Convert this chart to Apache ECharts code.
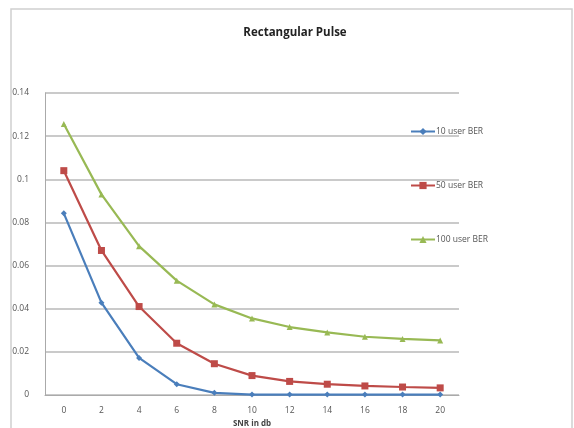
<!DOCTYPE html>
<html><head><meta charset="utf-8">
<script src="https://cdn.jsdelivr.net/npm/echarts@6/dist/echarts.min.js"></script>
<style>html,body{margin:0;padding:0;background:#fff}#c{width:574px;height:428px}</style>
</head><body><div id="c"></div>
<script>
const categories = ['0','2','4','6','8','10','12','14','16','18','20'];
const ber10 = [0.0842, 0.0428, 0.0172, 0.0050, 0.0010, 0.0002, 0.0002, 0.0002, 0.0002, 0.0002, 0.0002];
const ber50 = [0.1040, 0.0670, 0.0410, 0.0240, 0.0145, 0.0090, 0.0063, 0.0050, 0.0042, 0.0037, 0.0033];
const ber100 = [0.1256, 0.0930, 0.0690, 0.0530, 0.0420, 0.0355, 0.0315, 0.0290, 0.0270, 0.0260, 0.0253];
const seriesNames = ['10 user BER', '50 user BER', '100 user BER'];

const font = 'Open Sans';
const chart = echarts.init(document.getElementById('c'));
function mk(name, data, color, symbol, size){
  return {name, type:'line', data, symbol, symbolSize:size, showAllSymbol:true,
    lineStyle:{color, width:2.2}, itemStyle:{color}, emphasis:{disabled:true}};
}
chart.setOption({
  animation:false,
  backgroundColor:'#fff',
  graphic:[{type:'rect', shape:{x:11,y:9,width:561,height:425}, style:{fill:'none', stroke:'#d0d0d0', lineWidth:1.5}, silent:true}],
  title:{text:'Rectangular Pulse', left:290, textAlign:'center', top:22,
    textStyle:{fontFamily:font, fontSize:11.5, fontWeight:'bold', color:'#222'}},
  legend:{orient:'vertical', left:405, top:122, itemGap:45, itemWidth:24, itemHeight:9,
    textStyle:{fontFamily:font, fontSize:8.5, color:'#555', padding:[0,0,0,-4]}, data:seriesNames},
  grid:{left:45, right:115, top:93, bottom:33, outerBoundsMode:'none', containLabel:false},
  xAxis:{type:'category', data:categories, boundaryGap:true,
    name:'SNR in db', nameLocation:'middle', nameGap:13,
    nameTextStyle:{fontFamily:font, fontSize:8, fontWeight:'bold', color:'#444', verticalAlign:'top'},
    axisLine:{lineStyle:{color:'#aaa'}}, axisTick:{show:false},
    axisLabel:{fontFamily:font, fontSize:8.5, color:'#555', margin:11}},
  yAxis:{type:'value', min:0, max:0.14, interval:0.02,
    name:'BER', nameLocation:'middle', nameGap:24,
    nameTextStyle:{fontFamily:font, fontSize:8, fontWeight:'bold', color:'#444'},
    axisLine:{show:true, lineStyle:{color:'#aaa'}}, axisTick:{show:false},
    axisLabel:{fontFamily:font, fontSize:8.5, color:'#555', margin:16},
    splitLine:{lineStyle:{color:'#b8b8b8', width:1.5}}},
  series:[
    mk(seriesNames[0], ber10, '#4A7EBB', 'diamond', 6),
    mk(seriesNames[1], ber50, '#BE4B48', 'rect', 7),
    mk(seriesNames[2], ber100, '#98B954', 'triangle', 6)
  ]
});
</script></body></html>
